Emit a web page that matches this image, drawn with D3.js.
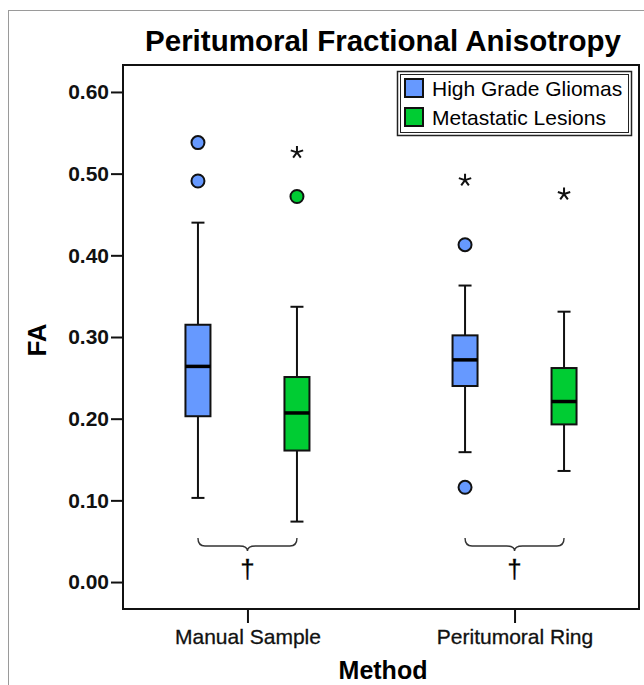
<!DOCTYPE html>
<html>
<head>
<meta charset="utf-8">
<script src="https://cdn.jsdelivr.net/npm/d3@7"></script>
<style>
  body { margin: 0; background: #fff; }
  svg { display: block; font-family: "Liberation Sans", Arial, Helvetica, sans-serif; }
</style>
</head>
<body>
<svg id="chart" width="644" height="685"></svg>
<script>
// -- DATA --
const methods = ["Manual Sample", "Peritumoral Ring"];
const groups = ["High Grade Gliomas", "Metastatic Lesions"];
const groupColors = ["#6699ff", "#00cc33"];
const yTicks = [0, 0.1, 0.2, 0.3, 0.4, 0.5, 0.6];

// one entry per box: [Manual HGG, Manual Met, Ring HGG, Ring Met]
const boxMethod = ["Manual Sample", "Manual Sample", "Peritumoral Ring", "Peritumoral Ring"];
const boxGroup = ["High Grade Gliomas", "Metastatic Lesions", "High Grade Gliomas", "Metastatic Lesions"];
const whiskerLow = [0.103, 0.074, 0.159, 0.136];
const q1 = [0.203, 0.161, 0.240, 0.193];
const median = [0.264, 0.207, 0.272, 0.221];
const q3 = [0.315, 0.251, 0.302, 0.262];
const whiskerHigh = [0.440, 0.337, 0.363, 0.331];
const outliers = [[0.538, 0.491], [0.472], [0.413, 0.116], []];
const extremes = [[], [0.526], [0.492], [0.475]];

// -- LAYOUT --
const svg = d3.select("#chart");
const frame = { left: 123, right: 639, top: 65, bottom: 609 };
const boxW = 25, capW = 13, offset = 49.5;

const x = d3.scalePoint().domain(methods).range([frame.left, frame.right]).padding(0.466);
const xg = d3.scalePoint().domain(groups).range([-offset, offset]);
const y = d3.scaleLinear().domain([-0.033, 0.633]).range([frame.bottom, frame.top]);

const color = d3.scaleOrdinal().domain(groups).range(groupColors);

// outer gray border
svg.append("rect")
    .attr("x", 8.5).attr("y", 10.5)
    .attr("width", 640).attr("height", 690)
    .attr("fill", "none").attr("stroke", "#9a9a9a").attr("stroke-width", 1);

// title
svg.append("text")
    .attr("x", 383).attr("y", 51)
    .attr("text-anchor", "middle")
    .attr("font-size", 29.5).attr("font-weight", "bold")
    .text("Peritumoral Fractional Anisotropy");

// frame
svg.append("rect")
    .attr("x", frame.left).attr("y", frame.top)
    .attr("width", frame.right - frame.left).attr("height", frame.bottom - frame.top)
    .attr("fill", "none").attr("stroke", "#111").attr("stroke-width", 2);

// y axis
const yAxis = svg.append("g")
    .attr("transform", `translate(${frame.left},0)`)
    .call(d3.axisLeft(y).tickValues(yTicks).tickFormat(d3.format(".2f")).tickSize(12).tickPadding(2));
yAxis.select(".domain").remove();
yAxis.selectAll("line").attr("stroke", "#111").attr("stroke-width", 2);
yAxis.selectAll("text")
    .attr("font-size", 21).attr("font-weight", "bold")
    .attr("font-family", "Liberation Sans, Arial, sans-serif").attr("fill", "#111");

// x axis
const xAxis = svg.append("g")
    .attr("transform", `translate(0,${frame.bottom})`)
    .call(d3.axisBottom(x).tickSize(14).tickPadding(6));
xAxis.select(".domain").remove();
xAxis.selectAll("line").attr("stroke", "#111").attr("stroke-width", 2);
xAxis.selectAll("text")
    .attr("font-size", 21)
    .attr("font-family", "Liberation Sans, Arial, sans-serif").attr("fill", "#111")
    .attr("stroke", "#111").attr("stroke-width", 0.3);

// axis titles
svg.append("text")
    .attr("transform", "translate(46,340) rotate(-90)")
    .attr("text-anchor", "middle")
    .attr("font-size", 26).attr("font-weight", "bold")
    .text("FA");
svg.append("text")
    .attr("x", 383).attr("y", 679)
    .attr("text-anchor", "middle")
    .attr("font-size", 25).attr("font-weight", "bold")
    .text("Method");

// -- BOXES --
const boxes = boxMethod.map((m, i) => ({
    cx: x(m) + xg(boxGroup[i]),
    group: boxGroup[i],
    lo: whiskerLow[i], q1: q1[i], med: median[i], q3: q3[i], hi: whiskerHigh[i],
    out: outliers[i], ext: extremes[i]
}));

const g = svg.append("g").selectAll("g").data(boxes).enter().append("g");

// whiskers
g.append("line")
    .attr("x1", d => d.cx).attr("x2", d => d.cx)
    .attr("y1", d => y(d.lo)).attr("y2", d => y(d.hi))
    .attr("stroke", "#111").attr("stroke-width", 2);
g.selectAll(".cap").data(d => [[d.cx, d.lo], [d.cx, d.hi]]).enter().append("line")
    .attr("class", "cap")
    .attr("x1", d => d[0] - capW / 2).attr("x2", d => d[0] + capW / 2)
    .attr("y1", d => y(d[1])).attr("y2", d => y(d[1]))
    .attr("stroke", "#111").attr("stroke-width", 2);

// box
g.append("rect")
    .attr("x", d => d.cx - boxW / 2).attr("width", boxW)
    .attr("y", d => y(d.q3)).attr("height", d => y(d.q1) - y(d.q3))
    .attr("fill", d => color(d.group))
    .attr("stroke", "#111").attr("stroke-width", 2);

// median
g.append("line")
    .attr("x1", d => d.cx - boxW / 2).attr("x2", d => d.cx + boxW / 2)
    .attr("y1", d => y(d.med)).attr("y2", d => y(d.med))
    .attr("stroke", "#000").attr("stroke-width", 3.5);

// outliers (circles)
g.selectAll(".out").data(d => d.out.map(v => ({ cx: d.cx, v: v, group: d.group }))).enter().append("circle")
    .attr("class", "out")
    .attr("cx", d => d.cx).attr("cy", d => y(d.v)).attr("r", 6.5)
    .attr("fill", d => color(d.group))
    .attr("stroke", "#111").attr("stroke-width", 2);

// extremes (stars)
const star = d3.path();
for (let k = 0; k < 5; k++) {
    const a = -Math.PI / 2 + k * 2 * Math.PI / 5;
    star.moveTo(0, 0);
    star.lineTo(6.5 * Math.cos(a), 6.5 * Math.sin(a));
}
g.selectAll(".ext").data(d => d.ext.map(v => ({ cx: d.cx, v: v }))).enter().append("path")
    .attr("class", "ext")
    .attr("d", star.toString())
    .attr("transform", d => `translate(${d.cx},${y(d.v)})`)
    .attr("fill", "none").attr("stroke", "#111").attr("stroke-width", 2)
    .attr("stroke-linecap", "butt");

// -- BRACES + DAGGER --
const braceTop = 538, braceMid = 546, braceTip = 551;
methods.forEach(m => {
    const x1 = x(m) + xg(groups[0]);
    const x2 = x(m) + xg(groups[1]);
    const c = x(m);
    const p = d3.path();
    p.moveTo(x1, braceTop);
    p.quadraticCurveTo(x1, braceMid, x1 + 7, braceMid);
    p.lineTo(c - 8, braceMid);
    p.quadraticCurveTo(c, braceMid, c, braceTip);
    p.quadraticCurveTo(c, braceMid, c + 8, braceMid);
    p.lineTo(x2 - 7, braceMid);
    p.quadraticCurveTo(x2, braceMid, x2, braceTop);
    svg.append("path").attr("d", p.toString())
        .attr("fill", "none").attr("stroke", "#333").attr("stroke-width", 1.4);
    svg.append("text")
        .attr("x", c).attr("y", 578)
        .attr("text-anchor", "middle")
        .attr("font-size", 26)
        .attr("stroke", "#111").attr("stroke-width", 0.3)
        .text("\u2020");
});

// -- LEGEND --
const lg = svg.append("g");
lg.append("rect").attr("x", 397.5).attr("y", 71.5).attr("width", 234).attr("height", 64)
    .attr("fill", "#fff").attr("stroke", "#222").attr("stroke-width", 1.5);
lg.append("rect").attr("x", 400.5).attr("y", 74.5).attr("width", 228).attr("height", 58)
    .attr("fill", "none").attr("stroke", "#222").attr("stroke-width", 1);

const item = lg.selectAll(".item").data(groups).enter().append("g")
    .attr("class", "item")
    .attr("transform", (d, i) => `translate(405,${79 + i * 29})`);
item.append("rect")
    .attr("width", 18).attr("height", 18)
    .attr("fill", d => color(d))
    .attr("stroke", "#111").attr("stroke-width", 2);
item.append("text")
    .attr("x", 27).attr("y", 17)
    .attr("font-size", 21)
    .text(d => d);
</script>
</body>
</html>
